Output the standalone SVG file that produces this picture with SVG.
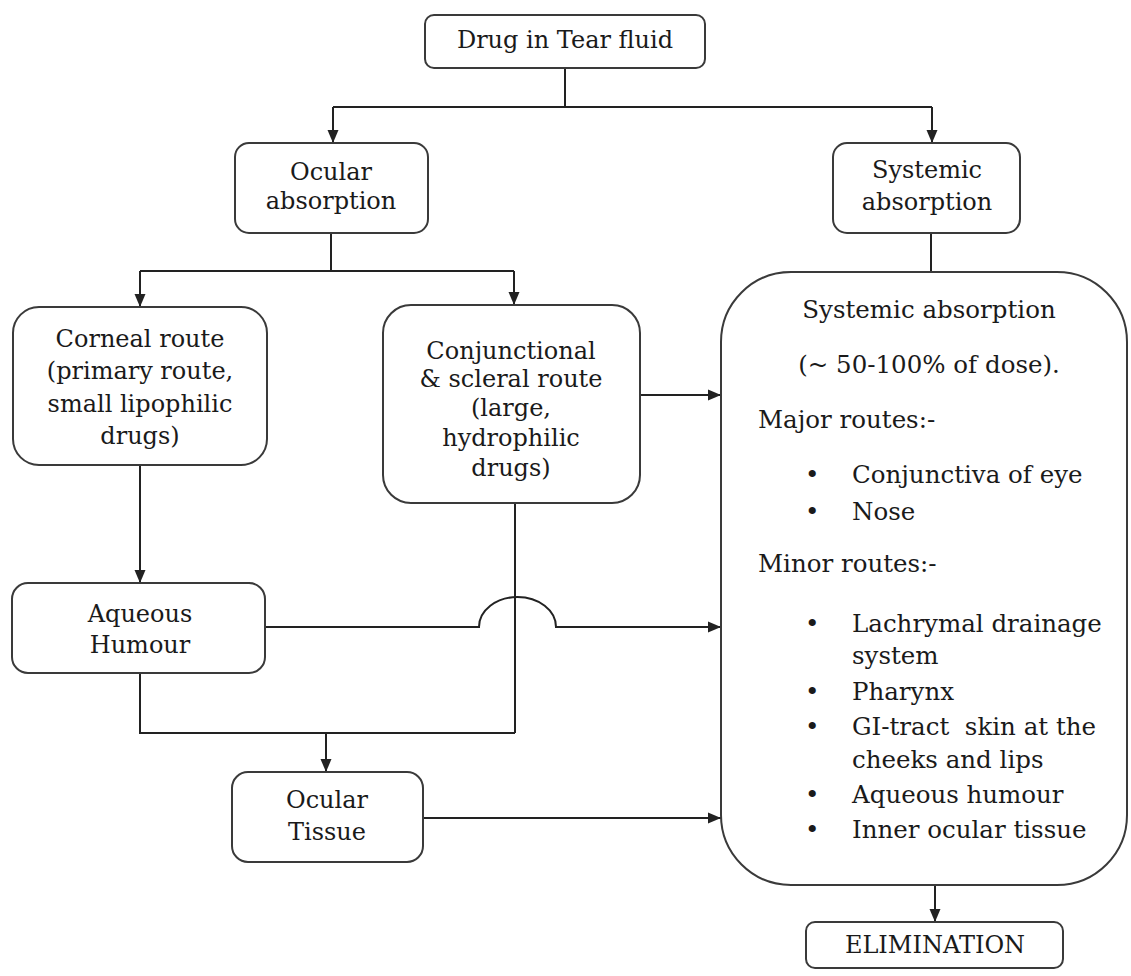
<svg xmlns="http://www.w3.org/2000/svg" width="1131" height="976" viewBox="0 0 1131 976">
<style>
.box{fill:#fff;stroke:#3a3a3a;stroke-width:2}
.t{font-family:"DejaVu Serif","Liberation Serif",serif;font-size:24px;fill:#1a1a1a;text-anchor:middle}
.b{font-family:"DejaVu Serif","Liberation Serif",serif;font-size:24.5px;fill:#1a1a1a}
.c{text-anchor:middle}
.ln{fill:none;stroke:#222;stroke-width:2}
.arr{marker-end:url(#ah)}
</style>
<defs>
<marker id="ah" markerWidth="13" markerHeight="12" viewBox="0 0 13 12" refX="13" refY="6" orient="auto" markerUnits="userSpaceOnUse">
<path d="M0,0.5 L13,6 L0,11.5 Z" fill="#222"/>
</marker>
</defs>
<rect width="1131" height="976" fill="#fff"/>
<g id="connectors">
<path class="ln" d="M565,68 V107 M333,107 H932"/>
<path class="ln arr" d="M333,107 V143"/>
<path class="ln arr" d="M932,107 V143"/>
<path class="ln" d="M931,233 V272"/>
<path class="ln" d="M331,233 V271 M140,271 H514"/>
<path class="ln arr" d="M140,271 V307"/>
<path class="ln arr" d="M514,271 V305"/>
<path class="ln arr" d="M640,395 H721"/>
<path class="ln arr" d="M140,465 V583"/>
<path class="ln arr" d="M265,627 H479 A38.5,30 0 0 1 556,627 H721"/>
<path class="ln" d="M515,503 V733 M140,673 V733 H515"/>
<path class="ln arr" d="M326,733 V772"/>
<path class="ln arr" d="M423,818 H721"/>
<path class="ln arr" d="M935,885 V922"/>
</g>
<g id="drug-tear-fluid">
<rect class="box" x="425" y="15" width="280" height="53" rx="9"/>
<text class="t" x="565" y="48">Drug in Tear fluid</text>
</g>
<g id="ocular-absorption">
<rect class="box" x="235" y="143" width="193" height="90" rx="14"/>
<text class="t" x="331" y="180">Ocular</text>
<text class="t" x="331" y="209">absorption</text>
</g>
<g id="systemic-absorption">
<rect class="box" x="833" y="143" width="187" height="90" rx="14"/>
<text class="t" x="927" y="178">Systemic</text>
<text class="t" x="927" y="210">absorption</text>
</g>
<g id="corneal-route">
<rect class="box" x="13" y="307" width="254" height="158" rx="26"/>
<text class="t" x="140" y="347">Corneal route</text>
<text class="t" x="140" y="379">(primary route,</text>
<text class="t" x="140" y="412">small lipophilic</text>
<text class="t" x="140" y="444">drugs)</text>
</g>
<g id="conjunctional-route">
<rect class="box" x="383" y="305" width="257" height="198" rx="28"/>
<text class="t" x="511" y="359">Conjunctional</text>
<text class="t" x="511" y="387">&amp; scleral route</text>
<text class="t" x="511" y="416">(large,</text>
<text class="t" x="511" y="446">hydrophilic</text>
<text class="t" x="511" y="476">drugs)</text>
</g>
<g id="systemic-detail">
<rect class="box" x="721" y="272" width="406" height="613" rx="70"/>
<text class="b c" x="929" y="318">Systemic absorption</text>
<text class="b c" x="929" y="373">(~ 50-100% of dose).</text>
<text class="b" x="758" y="428">Major routes:-</text>
<text class="b" x="805" y="483">•</text><text class="b" x="852" y="483">Conjunctiva of eye</text>
<text class="b" x="805" y="520">•</text><text class="b" x="852" y="520">Nose</text>
<text class="b" x="758" y="572">Minor routes:-</text>
<text class="b" x="805" y="632">•</text><text class="b" x="852" y="632">Lachrymal drainage</text>
<text class="b" x="852" y="664">system</text>
<text class="b" x="805" y="700">•</text><text class="b" x="852" y="700">Pharynx</text>
<text class="b" x="805" y="735">•</text><text class="b" x="852" y="735" xml:space="preserve">GI-tract  skin at the</text>
<text class="b" x="852" y="768">cheeks and lips</text>
<text class="b" x="805" y="803">•</text><text class="b" x="852" y="803">Aqueous humour</text>
<text class="b" x="805" y="838">•</text><text class="b" x="852" y="838">Inner ocular tissue</text>
</g>
<g id="aqueous-humour">
<rect class="box" x="12" y="583" width="253" height="90" rx="16"/>
<text class="t" x="140" y="622">Aqueous</text>
<text class="t" x="140" y="653">Humour</text>
</g>
<g id="ocular-tissue">
<rect class="box" x="232" y="772" width="191" height="90" rx="16"/>
<text class="t" x="327" y="808">Ocular</text>
<text class="t" x="327" y="840">Tissue</text>
</g>
<g id="elimination">
<rect class="box" x="806" y="922" width="257" height="46" rx="9"/>
<text class="t" x="935" y="953">ELIMINATION</text>
</g>
</svg>
